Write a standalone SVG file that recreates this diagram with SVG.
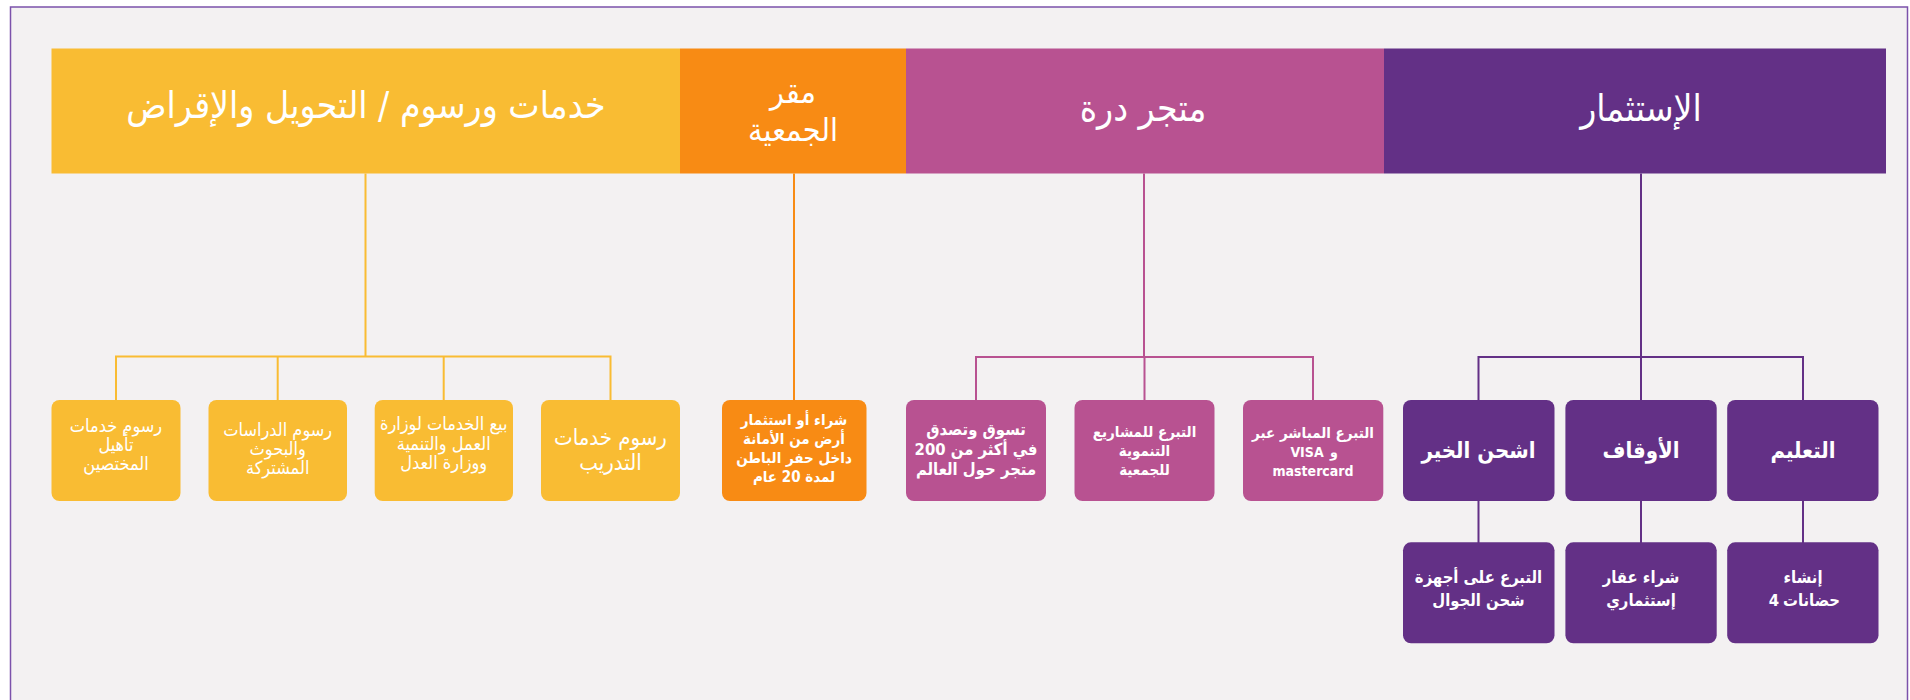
<svg xmlns="http://www.w3.org/2000/svg" width="1910" height="700" viewBox="0 0 1910 700">
<style>
.t{fill:#fff;text-anchor:middle;font-family:"DejaVu Sans Condensed","DejaVu Sans",sans-serif}
.title{font-size:37px}
.title2{font-size:32px}
.yl{font-size:18px}
.yl2{font-size:22px}
.ob{font-size:15px;font-weight:bold}
.pk{font-size:15px;font-weight:bold}
.pk1{font-size:16.5px;font-weight:bold}
.pk2{font-size:14px;font-weight:bold}
.pu1{font-size:22px;font-weight:bold}
.pu2{font-size:16.5px;font-weight:bold}
.cy{stroke:#F9BC33}
.co{stroke:#F88B14}
.cp{stroke:#B85291}
.cv{stroke:#633086}
#connectors path{fill:none;stroke-width:2}
.fy{fill:#F9BC33}
.fo{fill:#F88B14}
.fp{fill:#B85291}
.fv{fill:#633086}
</style>
<rect x="0" y="0" width="1910" height="700" fill="#ffffff"/>
<rect x="10.5" y="7" width="1897" height="720" fill="#F3F1F2" stroke="#7B52AB" stroke-width="1.5"/>

<g id="connectors">
  <path class="cy" d="M365.5 173.5V356.5M116 356.5H610.5M116 355.5V400M277.7 355.5V400M443.7 355.5V400M610.5 355.5V400"/>
  <path class="co" d="M794 173.5V400"/>
  <path class="cp" d="M1144 173.5V357M976 357H1313M976 356V400M1144.5 356V400M1313 356V400"/>
  <path class="cv" d="M1641 173.5V357M1478.5 357H1803M1478.5 356V400M1641 356V400M1803 356V400M1478.5 500V543M1641 500V543M1803 500V543"/>
</g>

<g id="head-fees">
  <rect class="fy" x="51.5" y="48.5" width="628.5" height="125"/>
  <text class="t title" x="366" y="118">خدمات ورسوم / التحويل والإقراض</text>
</g>
<g id="head-hq">
  <rect class="fo" x="680" y="48.5" width="226" height="125"/>
  <text class="t title2" x="793" y="103">مقر</text>
  <text class="t title2" x="793" y="141">الجمعية</text>
</g>
<g id="head-store">
  <rect class="fp" x="906" y="48.5" width="478" height="125"/>
  <text class="t title" x="1143" y="121">متجر درة</text>
</g>
<g id="head-invest">
  <rect class="fv" x="1384" y="48.5" width="502" height="125"/>
  <text class="t title" x="1641" y="121">الإستثمار</text>
</g>

<g id="y1">
  <rect class="fy" x="51.5" y="400" width="129" height="101" rx="8"/>
  <text class="t yl" x="116" y="432">رسوم خدمات</text>
  <text class="t yl" x="116" y="451">تأهيل</text>
  <text class="t yl" x="116" y="470">المختصين</text>
</g>
<g id="y2">
  <rect class="fy" x="208.5" y="400" width="138.5" height="101" rx="8"/>
  <text class="t yl" x="277.7" y="436">رسوم الدراسات</text>
  <text class="t yl" x="277.7" y="455">والبحوث</text>
  <text class="t yl" x="277.7" y="474">المشتركة</text>
</g>
<g id="y3">
  <rect class="fy" x="374.7" y="400" width="138.3" height="101" rx="8"/>
  <text class="t yl" x="443.7" y="430">بيع الخدمات لوزارة</text>
  <text class="t yl" x="443.7" y="450">العمل والتنمية</text>
  <text class="t yl" x="443.7" y="469">ووزارة العدل</text>
</g>
<g id="y4">
  <rect class="fy" x="541" y="400" width="139" height="101" rx="8"/>
  <text class="t yl2" x="610.5" y="445">رسوم خدمات</text>
  <text class="t yl2" x="610.5" y="470">التدريب</text>
</g>

<g id="o1">
  <rect class="fo" x="722" y="400" width="144.5" height="101" rx="8"/>
  <text class="t ob" x="794" y="425">شراء أو استثمار</text>
  <text class="t ob" x="794" y="444">أرض من الأمانة</text>
  <text class="t ob" x="794" y="463">داخل حفر الباطن</text>
  <text class="t ob" x="794" y="482">لمدة 20 عام</text>
</g>

<g id="p1">
  <rect class="fp" x="906" y="400" width="140" height="101" rx="8"/>
  <text class="t pk1" x="976" y="435">تسوق وتصدق</text>
  <text class="t pk1" x="976" y="455">في أكثر من 200</text>
  <text class="t pk1" x="976" y="475">متجر حول العالم</text>
</g>
<g id="p2">
  <rect class="fp" x="1074.5" y="400" width="140" height="101" rx="8"/>
  <text class="t pk" x="1144.5" y="437">التبرع للمشاريع</text>
  <text class="t pk" x="1144.5" y="456">التنموية</text>
  <text class="t pk" x="1144.5" y="475">للجمعية</text>
</g>
<g id="p3">
  <rect class="fp" x="1243" y="400" width="140.3" height="101" rx="8"/>
  <text class="t pk" x="1313" y="438">التبرع المباشر عبر</text>
  <text class="t pk2" x="1307" y="457">VISA</text>
  <text class="t pk2" x="1334" y="457">و</text>
  <text class="t pk2" x="1313" y="476">mastercard</text>
</g>

<g id="v1">
  <rect class="fv" x="1403" y="400" width="151.5" height="101" rx="8"/>
  <text class="t pu1" x="1478.5" y="458">اشحن الخير</text>
</g>
<g id="v2">
  <rect class="fv" x="1565.4" y="400" width="151.3" height="101" rx="8"/>
  <text class="t pu1" x="1641" y="458">الأوقاف</text>
</g>
<g id="v3">
  <rect class="fv" x="1727.2" y="400" width="151.3" height="101" rx="8"/>
  <text class="t pu1" x="1803" y="458">التعليم</text>
</g>
<g id="v1a">
  <rect class="fv" x="1403" y="542.3" width="151.5" height="101" rx="8"/>
  <text class="t pu2" x="1478.5" y="583">التبرع على أجهزة</text>
  <text class="t pu2" x="1478.5" y="606">شحن الجوال</text>
</g>
<g id="v2a">
  <rect class="fv" x="1565.4" y="542.3" width="151.3" height="101" rx="8"/>
  <text class="t pu2" x="1641" y="583">شراء عقار</text>
  <text class="t pu2" x="1641" y="606">إستثماري</text>
</g>
<g id="v3a">
  <rect class="fv" x="1727.2" y="542.3" width="151.3" height="101" rx="8"/>
  <text class="t pu2" x="1803" y="583">إنشاء</text>
  <text class="t pu2" x="1774" y="606">4</text>
  <text class="t pu2" x="1811.5" y="606">حضانات</text>
</g>
</svg>
